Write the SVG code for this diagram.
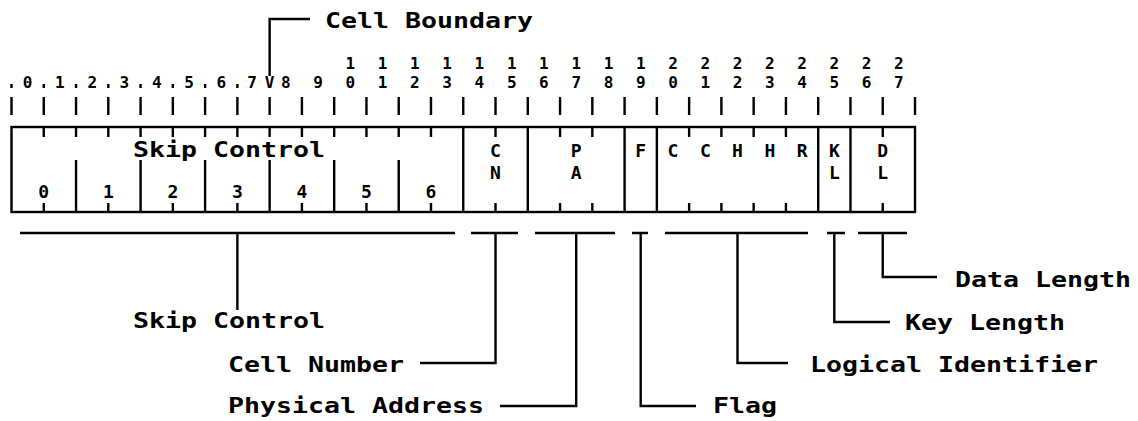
<svg xmlns="http://www.w3.org/2000/svg" width="1138" height="421" viewBox="0 0 1138 421">
<style>
.ln{fill:none;stroke:#000;stroke-width:2.4;stroke-linecap:butt}
.lbl{font-family:"DejaVu Sans Mono","Liberation Mono",monospace;font-weight:bold;font-size:21px;fill:#000}
.num{font-family:"DejaVu Sans Mono","Liberation Mono",monospace;font-weight:bold;font-size:16px;fill:#000;text-anchor:middle}
.dig{font-family:"DejaVu Sans Mono","Liberation Mono",monospace;font-weight:bold;font-size:18px;fill:#000;text-anchor:middle}
.ch{font-family:"DejaVu Sans Mono","Liberation Mono",monospace;font-weight:bold;font-size:18px;fill:#000;text-anchor:middle}
</style>
<rect width="1138" height="421" fill="#fff"/>

<g id="ruler">
<path class="ln" d="M11.5 97V115M43.77 97V115M76.04 97V115M108.3 97V115M140.57 97V115M172.84 97V115M205.11 97V115M237.38 97V115M269.64 97V115M301.91 97V115M334.18 97V115M366.45 97V115M398.72 97V115M430.98 97V115M463.25 97V115M495.52 97V115M527.79 97V115M560.06 97V115M592.32 97V115M624.59 97V115M656.86 97V115M689.13 97V115M721.4 97V115M753.66 97V115M785.93 97V115M818.2 97V115M850.47 97V115M882.74 97V115M915 97V115"/>
<path class="ln" d="M11.5 84V88M43.77 84V88M76.04 84V88M108.3 84V88M140.57 84V88M172.84 84V88M205.11 84V88M237.38 84V88"/>
<text class="num" x="27.6" y="88">0</text>
<text class="num" x="59.9" y="88">1</text>
<text class="num" x="92.2" y="88">2</text>
<text class="num" x="124.4" y="88">3</text>
<text class="num" x="156.7" y="88">4</text>
<text class="num" x="189" y="88">5</text>
<text class="num" x="221.2" y="88">6</text>
<text class="num" x="252" y="88">7</text>
<text class="num" x="285.8" y="88">8</text>
<text class="num" x="318" y="88">9</text>
<text class="num" x="350.3" y="69">1</text><text class="num" x="350.3" y="88">0</text>
<text class="num" x="382.6" y="69">1</text><text class="num" x="382.6" y="88">1</text>
<text class="num" x="414.9" y="69">1</text><text class="num" x="414.9" y="88">2</text>
<text class="num" x="447.1" y="69">1</text><text class="num" x="447.1" y="88">3</text>
<text class="num" x="479.4" y="69">1</text><text class="num" x="479.4" y="88">4</text>
<text class="num" x="511.7" y="69">1</text><text class="num" x="511.7" y="88">5</text>
<text class="num" x="543.9" y="69">1</text><text class="num" x="543.9" y="88">6</text>
<text class="num" x="576.2" y="69">1</text><text class="num" x="576.2" y="88">7</text>
<text class="num" x="608.5" y="69">1</text><text class="num" x="608.5" y="88">8</text>
<text class="num" x="640.7" y="69">1</text><text class="num" x="640.7" y="88">9</text>
<text class="num" x="673" y="69">2</text><text class="num" x="673" y="88">0</text>
<text class="num" x="705.3" y="69">2</text><text class="num" x="705.3" y="88">1</text>
<text class="num" x="737.5" y="69">2</text><text class="num" x="737.5" y="88">2</text>
<text class="num" x="769.8" y="69">2</text><text class="num" x="769.8" y="88">3</text>
<text class="num" x="802.1" y="69">2</text><text class="num" x="802.1" y="88">4</text>
<text class="num" x="834.3" y="69">2</text><text class="num" x="834.3" y="88">5</text>
<text class="num" x="866.6" y="69">2</text><text class="num" x="866.6" y="88">6</text>
<text class="num" x="898.9" y="69">2</text><text class="num" x="898.9" y="88">7</text>
</g>

<g id="cell-boundary">
<text class="num" x="269.64" y="88">V</text>
<path class="ln" d="M269.64 76V19H310"/>
<text class="lbl" x="325" y="28" textLength="208" lengthAdjust="spacingAndGlyphs">Cell Boundary</text>
</g>

<g id="record">
<rect class="ln" x="11.5" y="127" width="903.5" height="85"/>
<path class="ln" d="M463.25 127V212M527.79 127V212M624.59 127V212M656.86 127V212M818.2 127V212M850.47 127V212"/>
<path class="ln" d="M76.04 160V212M140.57 160V212M205.11 160V212M269.64 160V212M334.18 160V212M398.72 160V212"/>
<path class="ln" d="M43.77 127V137M76.04 127V137M108.3 127V137M140.57 127V137M172.84 127V137M205.11 127V137M237.38 127V137M269.64 127V137M301.91 127V137M334.18 127V137M366.45 127V137M398.72 127V137M430.98 127V137M495.52 127V137M560.06 127V137M592.32 127V137M689.13 127V137M721.4 127V137M753.66 127V137M785.93 127V137M882.74 127V137"/>
<path class="ln" d="M43.77 203V212M108.3 203V212M172.84 203V212M237.38 203V212M301.91 203V212M366.45 203V212M430.98 203V212M495.52 203V212M560.06 203V212M592.32 203V212M689.13 203V212M721.4 203V212M753.66 203V212M785.93 203V212M882.74 203V212"/>
<text class="lbl" x="133" y="157" textLength="192" lengthAdjust="spacingAndGlyphs">Skip Control</text>
<text class="dig" x="43.77" y="198">0</text>
<text class="dig" x="108.3" y="198">1</text>
<text class="dig" x="172.84" y="198">2</text>
<text class="dig" x="237.38" y="198">3</text>
<text class="dig" x="301.91" y="198">4</text>
<text class="dig" x="366.45" y="198">5</text>
<text class="dig" x="430.98" y="198">6</text>
<text class="ch" x="495.52" y="157">C</text><text class="ch" x="495.52" y="179">N</text>
<text class="ch" x="576.2" y="157">P</text><text class="ch" x="576.2" y="179">A</text>
<text class="ch" x="640.7" y="157">F</text>
<text class="ch" x="673" y="157">C</text>
<text class="ch" x="705.3" y="157">C</text>
<text class="ch" x="737.5" y="157">H</text>
<text class="ch" x="769.8" y="157">H</text>
<text class="ch" x="802.1" y="157">R</text>
<text class="ch" x="834.3" y="157">K</text><text class="ch" x="834.3" y="179">L</text>
<text class="ch" x="882.74" y="157">D</text><text class="ch" x="882.74" y="179">L</text>
</g>

<g id="connectors">
<path class="ln" d="M20 233H455M237.38 233V310"/>
<path class="ln" d="M471 233H518M495.52 233V363H420"/>
<path class="ln" d="M535 233H615M576.2 233V406H500"/>
<path class="ln" d="M632 233H648M640.7 233V406H696"/>
<path class="ln" d="M665 233H808M737.5 233V363H788"/>
<path class="ln" d="M827 233H845M834.3 233V322H890"/>
<path class="ln" d="M858 233H907M882.74 233V277H937"/>
</g>

<g id="label-skip"><text class="lbl" x="133" y="328" textLength="192" lengthAdjust="spacingAndGlyphs">Skip Control</text></g>
<g id="label-cell"><text class="lbl" x="228" y="372" textLength="176" lengthAdjust="spacingAndGlyphs">Cell Number</text></g>
<g id="label-phys"><text class="lbl" x="228" y="413" textLength="256" lengthAdjust="spacingAndGlyphs">Physical Address</text></g>
<g id="label-flag"><text class="lbl" x="713" y="413" textLength="64" lengthAdjust="spacingAndGlyphs">Flag</text></g>
<g id="label-logical"><text class="lbl" x="810" y="372" textLength="288" lengthAdjust="spacingAndGlyphs">Logical Identifier</text></g>
<g id="label-key"><text class="lbl" x="905" y="330" textLength="160" lengthAdjust="spacingAndGlyphs">Key Length</text></g>
<g id="label-data"><text class="lbl" x="955" y="287" textLength="176" lengthAdjust="spacingAndGlyphs">Data Length</text></g>
</svg>
